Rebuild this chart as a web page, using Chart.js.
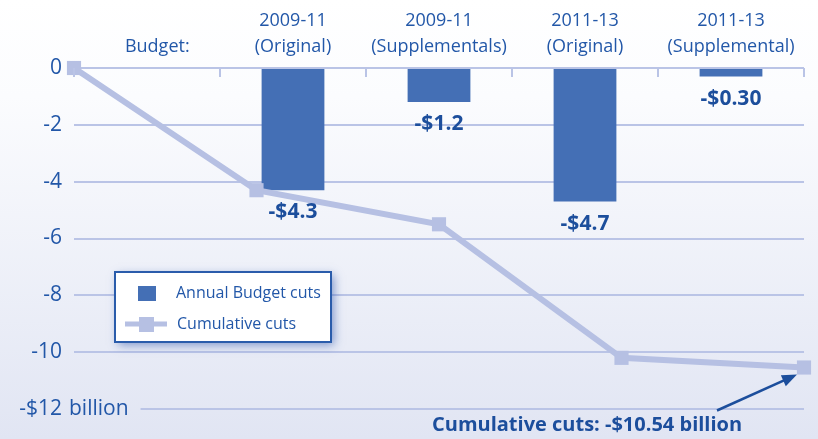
<!DOCTYPE html>
<html>
<head>
<meta charset="utf-8">
<script src="https://cdn.jsdelivr.net/npm/chart.js@4.4.0/dist/chart.umd.min.js"></script>
<style>
html, body { margin: 0; padding: 0; background: #fff; }
#wrapper { width: 818px; height: 439px; position: relative; }
</style>
</head>
<body>
<div id="wrapper"><canvas id="graficaRecortes"></canvas></div>
<script>
// --- Datos ---
const encabezado = ['', '\u2007\u2007Budget:'];
const presupuestos = [
    ['2009-11', '(Original)'],
    ['2009-11', '(Supplementals)'],
    ['2011-13', '(Original)'],
    ['2011-13', '(Supplemental)']
];
const recortesAnuales = [-4.3, -1.2, -4.7, -0.30];
const etiquetasRecortes = ['-$4.3', '-$1.2', '-$4.7', '-$0.30'];
const recortesAcumulados = [0, -4.3, -5.5, -10.2, -10.54];
const ticksY = [0, -2, -4, -6, -8, -10, -12];
const etiquetasY = ['0', '-2', '-4', '-6', '-8', '-10', '-$12'];
const sufijoUltimoTick = 'billion';
const notaFinal = 'Cumulative cuts: -$10.54 billion';
const nombresSeries = ['Annual Budget cuts', 'Cumulative cuts'];

// --- Colores ---
const azulTexto = '#2257a8';
const azulOscuro = '#1c4e9c';
const azulBarra = '#446fb5';
const lilaLinea = '#b6c0e3';
const colorGrid = '#bac4e6';
const fuente = "'Open Sans', sans-serif";

// Fondo degradado
const pluginFondo = {
    id: 'fondo',
    beforeDraw(chart) {
        const { ctx, width, height } = chart;
        const g = ctx.createLinearGradient(0, 0, 0, height);
        g.addColorStop(0, '#ffffff');
        g.addColorStop(0.22, '#fbfcfe');
        g.addColorStop(1, '#e1e5f3');
        ctx.save();
        ctx.fillStyle = g;
        ctx.fillRect(0, 0, width, height);
        ctx.restore();
    }
};

// Marcas, etiquetas, leyenda y nota
const pluginExtras = {
    id: 'extras',
    afterDraw(chart) {
        const { ctx, chartArea } = chart;
        const x = chart.scales.x;
        const y = chart.scales.y;
        ctx.save();

        // marcas hacia abajo en el eje superior
        ctx.strokeStyle = colorGrid;
        ctx.lineWidth = 2;
        const n = x.getLabels().length;
        for (let i = 0; i <= n; i++) {
            let px;
            if (i === 0) px = chartArea.left;
            else if (i === n) px = chartArea.right;
            else px = (x.getPixelForValue(i - 1) + x.getPixelForValue(i)) / 2;
            ctx.beginPath();
            ctx.moveTo(px, chartArea.top);
            ctx.lineTo(px, chartArea.top + 9);
            ctx.stroke();
        }

        // "billion" del último tick y su línea de grid
        const yUlt = y.getPixelForValue(ticksY[ticksY.length - 1]);
        ctx.font = '21px ' + fuente;
        ctx.fillStyle = azulTexto;
        ctx.textAlign = 'left';
        ctx.textBaseline = 'middle';
        const xTexto = chartArea.left - 5;
        ctx.fillText(sufijoUltimoTick, xTexto, yUlt);
        const finTexto = xTexto + ctx.measureText(sufijoUltimoTick).width + 12;
        ctx.beginPath();
        ctx.moveTo(finTexto, yUlt);
        ctx.lineTo(chartArea.right, yUlt);
        ctx.stroke();

        // etiquetas de las barras
        const metaBarras = chart.getDatasetMeta(1);
        ctx.font = 'bold 21px ' + fuente;
        ctx.fillStyle = azulOscuro;
        ctx.textAlign = 'center';
        metaBarras.data.forEach((el, i) => {
            if (i === 0) return;
            ctx.fillText(etiquetasRecortes[i - 1], el.x, el.y + 22);
        });

        // leyenda
        const lx = chartArea.left + 41, ly = chartArea.top + 204, lw = 216, lh = 70;
        ctx.save();
        ctx.shadowColor = 'rgba(40, 80, 170, 0.55)';
        ctx.shadowBlur = 9;
        ctx.shadowOffsetX = 3;
        ctx.shadowOffsetY = 3;
        ctx.fillStyle = '#ffffff';
        ctx.fillRect(lx, ly, lw, lh);
        ctx.restore();
        ctx.strokeStyle = '#2a5cab';
        ctx.lineWidth = 2;
        ctx.strokeRect(lx, ly, lw, lh);

        ctx.fillStyle = azulBarra;
        ctx.fillRect(lx + 23, ly + 14, 18, 15);
        ctx.strokeStyle = lilaLinea;
        ctx.lineWidth = 5;
        ctx.beginPath();
        ctx.moveTo(lx + 10, ly + 52);
        ctx.lineTo(lx + 52, ly + 52);
        ctx.stroke();
        ctx.fillStyle = lilaLinea;
        ctx.fillRect(lx + 24, ly + 45, 15, 15);

        ctx.font = '16px ' + fuente;
        ctx.fillStyle = azulTexto;
        ctx.textAlign = 'left';
        ctx.textBaseline = 'middle';
        ctx.fillText(nombresSeries[0], lx + 61, ly + 21);
        ctx.fillText(nombresSeries[1], lx + 62, ly + 52);

        // nota final con flecha
        const metaLinea = chart.getDatasetMeta(0);
        const ultimo = metaLinea.data[metaLinea.data.length - 1];
        ctx.font = 'bold 20px ' + fuente;
        ctx.fillStyle = azulOscuro;
        ctx.textAlign = 'left';
        ctx.fillText(notaFinal, 432, 425);

        const tx = ultimo.x - 7, ty = ultimo.y + 7;
        const sx = ultimo.x - 87, sy = ultimo.y + 43;
        const ang = Math.atan2(ty - sy, tx - sx);
        ctx.strokeStyle = azulOscuro;
        ctx.lineWidth = 2.5;
        ctx.beginPath();
        ctx.moveTo(sx, sy);
        ctx.lineTo(tx - 10 * Math.cos(ang), ty - 10 * Math.sin(ang));
        ctx.stroke();
        ctx.fillStyle = azulOscuro;
        ctx.beginPath();
        ctx.moveTo(tx, ty);
        ctx.lineTo(tx - 15 * Math.cos(ang) + 6 * Math.sin(ang), ty - 15 * Math.sin(ang) - 6 * Math.cos(ang));
        ctx.lineTo(tx - 15 * Math.cos(ang) - 6 * Math.sin(ang), ty - 15 * Math.sin(ang) + 6 * Math.cos(ang));
        ctx.closePath();
        ctx.fill();

        ctx.restore();
    }
};

const ctx = document.getElementById('graficaRecortes').getContext('2d');
new Chart(ctx, {
    data: {
        labels: [encabezado, ...presupuestos],
        datasets: [
            {
                type: 'line',
                label: nombresSeries[1],
                xAxisID: 'x2',
                data: recortesAcumulados.map((v, i) => ({ x: i, y: v })),
                borderColor: lilaLinea,
                borderWidth: 6,
                pointStyle: 'rect',
                pointRadius: 10,
                pointBackgroundColor: lilaLinea,
                pointBorderWidth: 0,
                clip: false,
                order: 0
            },
            {
                type: 'bar',
                label: nombresSeries[0],
                xAxisID: 'x',
                data: [null, ...recortesAnuales],
                backgroundColor: azulBarra,
                grouped: false,
                categoryPercentage: 1,
                barPercentage: 0.43,
                order: 1
            }
        ]
    },
    options: {
        responsive: true,
        maintainAspectRatio: false,
        animation: false,
        layout: { padding: { top: 0, right: 14, bottom: 30, left: 0 } },
        plugins: {
            legend: { display: false },
            tooltip: { enabled: false }
        },
        scales: {
            x: {
                type: 'category',
                position: 'top',
                offset: true,
                grid: { display: false },
                border: { display: false },
                ticks: {
                    color: azulTexto,
                    font: { family: fuente, size: 18, lineHeight: 1.45 },
                    padding: 0,
                    maxRotation: 0,
                    autoSkip: false
                },
                afterFit: (scale) => { scale.height = 68; }
            },
            x2: {
                type: 'linear',
                min: 0,
                max: recortesAcumulados.length - 1,
                display: false
            },
            y: {
                min: -12,
                max: 0,
                border: { display: false },
                grid: {
                    drawTicks: false,
                    lineWidth: 2,
                    color: (c) => (c.tick && c.tick.value === -12) ? 'rgba(0,0,0,0)' : colorGrid
                },
                afterBuildTicks: (scale) => { scale.ticks = ticksY.map(v => ({ value: v })); },
                ticks: {
                    color: azulTexto,
                    font: { family: fuente, size: 21 },
                    padding: 12,
                    callback: (val) => etiquetasY[ticksY.indexOf(val)]
                },
                afterFit: (scale) => { scale.width = 74; }
            }
        }
    },
    plugins: [pluginFondo, pluginExtras]
});
</script>
</body>
</html>
